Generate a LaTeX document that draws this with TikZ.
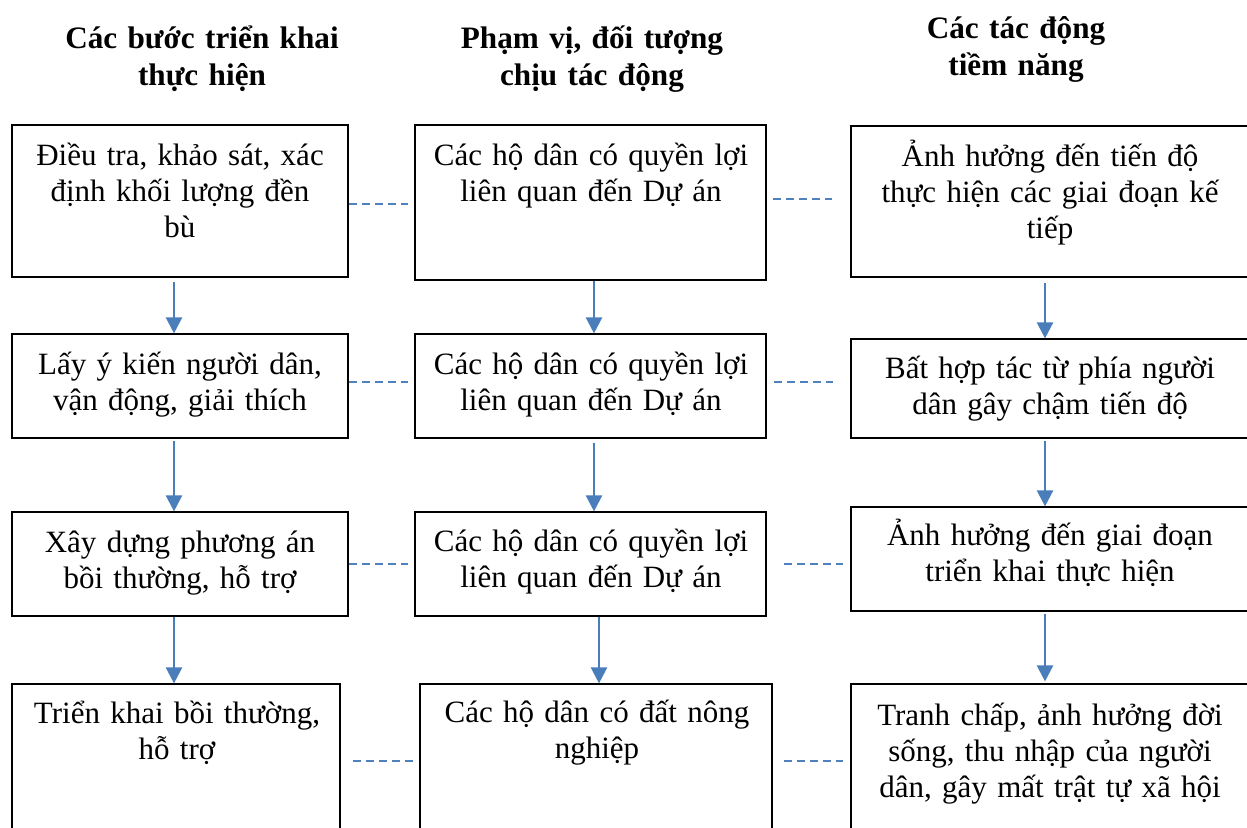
\documentclass[tikz,border=0pt]{standalone}
\usepackage{fontspec}
\setmainfont{Liberation Serif}
\usetikzlibrary{fit,arrows.meta}
\definecolor{arrowblue}{HTML}{4A7EBB}
\definecolor{dashblue}{HTML}{4F81BD}
\begin{document}
\begin{tikzpicture}[x=0.5pt,y=-0.5pt,
  box/.style={draw=black,line width=0.6pt,inner sep=0pt,fill=none},
  txt/.style={anchor=base,align=center,text width=200pt,inner sep=0pt,
    font=\fontsize{15.5pt}{18pt}\selectfont},
  head/.style={anchor=base,align=center,text width=200pt,inner sep=0pt,
    font=\fontsize{15.6pt}{18.5pt}\selectfont\bfseries},
  flow/.style={draw=arrowblue,line width=1.2pt,-{Triangle[width=8pt,length=8pt]}},
  link/.style={draw=dashblue,line width=0.75pt,dash pattern=on 4pt off 2.6pt}]
\useasboundingbox (0,0) rectangle (1247,827);
\clip (0,0) rectangle (1247,827);
% headers
\node[head] (h1) at (202,48) {Các bước triển khai\\thực hiện};
\node[head] (h2) at (592,48) {Phạm vị, đối tượng\\chịu tác động};
\node[head] (h3) at (1016,38) {Các tác động\\tiềm năng};
% boxes
\node[box,fit={(12,125) (348,277)}] (a1) {};
\node[box,fit={(12,334) (348,438)}] (a2) {};
\node[box,fit={(12,512) (348,616)}] (a3) {};
\node[box,fit={(12,684) (340,900)}] (a4) {};
\node[box,fit={(415,125) (766,280)}] (b1) {};
\node[box,fit={(415,334) (766,438)}] (b2) {};
\node[box,fit={(415,512) (766,616)}] (b3) {};
\node[box,fit={(420,684) (772,900)}] (b4) {};
\node[box,fit={(851,126) (1300,277)}] (c1) {};
\node[box,fit={(851,339) (1300,438)}] (c2) {};
\node[box,fit={(851,507) (1300,611)}] (c3) {};
\node[box,fit={(851,684) (1300,900)}] (c4) {};
% texts
\node[txt] (a1t) at (180,165) {Điều tra, khảo sát, xác\\định khối lượng đền\\bù};
\node[txt] (a2t) at (180,374) {Lấy ý kiến người dân,\\vận động, giải thích};
\node[txt] (a3t) at (180,552) {Xây dựng phương án\\bồi thường, hỗ trợ};
\node[txt] (a4t) at (177,723) {Triển khai bồi thường,\\hỗ trợ};
\node[txt] (b1t) at (591,165) {Các hộ dân có quyền lợi\\liên quan đến Dự án};
\node[txt] (b2t) at (591,374) {Các hộ dân có quyền lợi\\liên quan đến Dự án};
\node[txt] (b3t) at (591,551) {Các hộ dân có quyền lợi\\liên quan đến Dự án};
\node[txt] (b4t) at (597,722) {Các hộ dân có đất nông\\nghiệp};
\node[txt] (c1t) at (1050,166) {Ảnh hưởng đến tiến độ\\thực hiện các giai đoạn kế\\tiếp};
\node[txt] (c2t) at (1050,378) {Bất hợp tác từ phía người\\dân gây chậm tiến độ};
\node[txt] (c3t) at (1050,545) {Ảnh hưởng đến giai đoạn\\triển khai thực hiện};
\node[txt] (c4t) at (1050,725) {Tranh chấp, ảnh hưởng đời\\sống, thu nhập của người\\dân, gây mất trật tự xã hội};
% vertical arrows
\draw[flow,shorten <=2pt] (a1.south -| 174,0) -- (a2.north -| 174,0);
\draw[flow,shorten <=1pt] (a2.south -| 174,0) -- (a3.north -| 174,0);
\draw[flow] (a3.south -| 174,0) -- (a4.north -| 174,0);
\draw[flow] (b1.south -| 594,0) -- (b2.north -| 594,0);
\draw[flow,shorten <=2pt] (b2.south -| 594,0) -- (b3.north -| 594,0);
\draw[flow] (b3.south -| 599,0) -- (b4.north -| 599,0);
\draw[flow,shorten <=2.5pt] (c1.south -| 1045,0) -- (c2.north -| 1045,0);
\draw[flow,shorten <=1pt] (c2.south -| 1045,0) -- (c3.north -| 1045,0);
\draw[flow,shorten <=1pt,shorten >=1pt] (c3.south -| 1045,0) -- (c4.north -| 1045,0);
% dashed links
\draw[link,shorten >=3pt] (a1.east |- 0,204) -- (b1.west |- 0,204);
\draw[link,shorten <=3pt,shorten >=9pt] (b1.east |- 0,199) -- (c1.west |- 0,199);
\draw[link,shorten >=3pt] (a2.east |- 0,382) -- (b2.west |- 0,382);
\draw[link,shorten <=3.5pt,shorten >=8.5pt] (b2.east |- 0,382) -- (c2.west |- 0,382);
\draw[link,shorten >=3pt] (a3.east |- 0,564) -- (b3.west |- 0,564);
\draw[link,shorten <=8.5pt,shorten >=3.5pt] (b3.east |- 0,564) -- (c3.west |- 0,564);
\draw[link,shorten <=6pt,shorten >=3pt] (a4.east |- 0,761) -- (b4.west |- 0,761);
\draw[link,shorten <=5.5pt,shorten >=3.5pt] (b4.east |- 0,761) -- (c4.west |- 0,761);
\end{tikzpicture}
\end{document}
